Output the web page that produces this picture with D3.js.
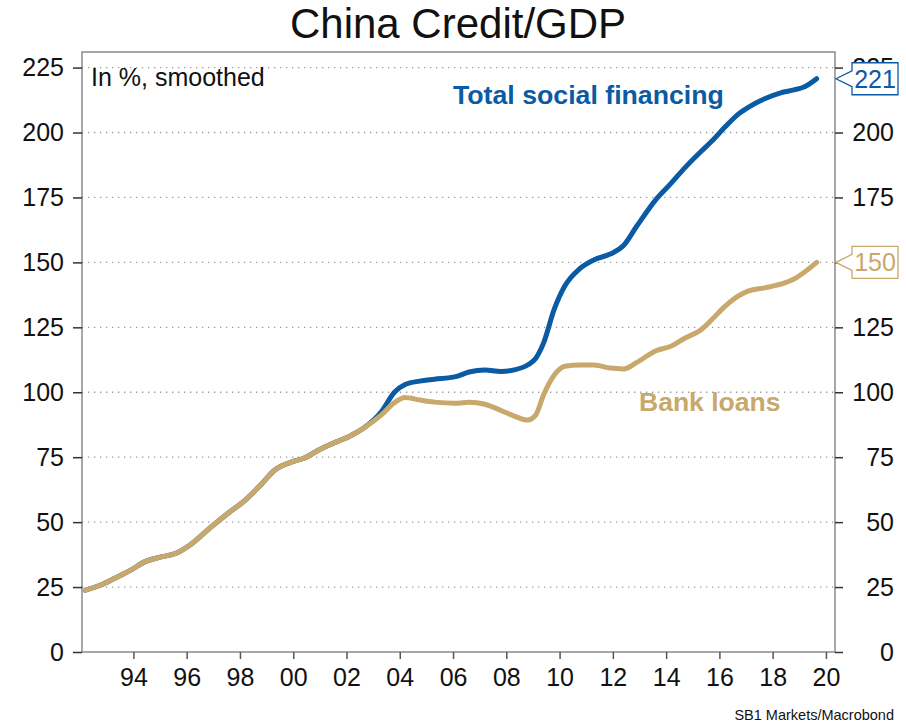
<!DOCTYPE html>
<html>
<head>
<meta charset="utf-8">
<script src="https://cdn.jsdelivr.net/npm/d3@7"></script>
<style>
  html, body { margin: 0; padding: 0; background: #fff; }
  svg { display: block; font-family: "Liberation Sans", Arial, sans-serif; }
</style>
</head>
<body>
<svg id="chart" width="906" height="722"></svg>
<script>
// Credit-to-GDP ratios (in %, smoothed), sampled at decimal years
const years = [1992.2, 1992.75, 1993.3, 1993.9, 1994.4, 1995.0, 1995.6, 1996.1, 1996.9, 1997.6,
  1998.2, 1998.75, 1999.3, 1999.9, 2000.4, 2001.0, 2001.6, 2002.1, 2002.7, 2003.3,
  2003.8, 2004.2, 2004.75, 2005.3, 2006.1, 2006.6, 2007.2, 2007.8, 2008.3, 2008.8,
  2009.1, 2009.4, 2009.8, 2010.2, 2010.75, 2011.3, 2011.9, 2012.4, 2012.9, 2013.6,
  2014.2, 2014.7, 2015.3, 2015.7, 2016.2, 2016.7, 2017.1, 2017.7, 2018.3, 2018.8,
  2019.2, 2019.65];

const totalSocialFinancing = [23.8, 25.7, 28.4, 31.5, 34.6, 36.5, 38.0, 41.0, 48.0, 53.8,
  58.5, 64.0, 70.0, 73.0, 74.6, 78.0, 80.8, 83.0, 86.6, 92.4,
  100.0, 103.0, 104.3, 105.0, 106.0, 107.8, 108.6, 108.0, 108.6, 110.5,
  113.0, 119.0, 132.0, 141.0, 147.5, 151.0, 153.2, 156.5, 164.0, 174.0,
  180.6, 186.4, 192.6, 196.5, 202.0, 207.0, 209.8, 213.0, 215.3, 216.4,
  217.6, 220.7];

const bankLoans = [23.8, 25.7, 28.4, 31.5, 34.6, 36.5, 38.0, 41.0, 48.0, 53.8,
  58.5, 64.0, 70.0, 73.0, 74.6, 78.0, 80.8, 83.0, 86.6, 91.2,
  96.0, 98.0, 97.0, 96.2, 95.8, 96.2, 95.4, 93.0, 90.8, 89.3,
  91.2, 99.0, 106.6, 110.0, 110.5, 110.5, 109.3, 109.0, 111.5, 115.9,
  117.8, 120.8, 124.0, 127.8, 133.0, 137.0, 139.0, 140.2, 141.6, 143.6,
  146.3, 150.0];

const yTicks = [0, 25, 50, 75, 100, 125, 150, 175, 200, 225];
const xTicks = [1994, 1996, 1998, 2000, 2002, 2004, 2006, 2008, 2010, 2012, 2014, 2016, 2018, 2020];
const xTickLabels = ["94", "96", "98", "00", "02", "04", "06", "08", "10", "12", "14", "16", "18", "20"];

const BLUE = "#0a5aa4";
const TAN = "#c8a86b";
const GRID = "#9a9a9a";
const FRAME = "#8a8a8a";

const svg = d3.select("#chart");
const plotLeft = 82, plotRight = 835, plotTop = 52, plotBottom = 652;

const x = d3.scaleLinear().domain([1992.07, 2020.34]).range([plotLeft, plotRight]);
const y = d3.scaleLinear().domain([0, 231]).range([plotBottom, plotTop]);

// Title
svg.append("text")
  .attr("x", 458).attr("y", 38)
  .attr("text-anchor", "middle")
  .attr("font-size", 42)
  .attr("fill", "#111")
  .text("China Credit/GDP");

// Horizontal dotted grid
svg.append("g").selectAll("line")
  .data(yTicks)
  .join("line")
  .attr("x1", plotLeft).attr("x2", plotRight)
  .attr("y1", d => y(d)).attr("y2", d => y(d))
  .attr("stroke", d => d === 0 ? FRAME : GRID)
  .attr("stroke-width", d => d === 0 ? 1.5 : 1.3)
  .attr("stroke-dasharray", d => d === 0 ? null : "1.3,4.7");

// Plot frame: left, top and right edges
svg.append("path")
  .attr("d", `M${plotLeft},${plotBottom} V${plotTop} H${plotRight} V${plotBottom}`)
  .attr("fill", "none")
  .attr("stroke", FRAME)
  .attr("stroke-width", 1.5);

// Left axis
const yAxisL = d3.axisLeft(y).tickValues(yTicks).tickSize(9).tickPadding(9);
const gL = svg.append("g").attr("transform", `translate(${plotLeft},0)`).call(yAxisL);
gL.select(".domain").remove();
gL.selectAll(".tick line").attr("stroke", "#333").attr("stroke-width", 1.5);
gL.selectAll(".tick text").attr("font-size", 25).attr("fill", "#111")
  .attr("font-family", "Liberation Sans, Arial, sans-serif");

// Right axis (labels right-aligned)
const yAxisR = d3.axisRight(y).tickValues(yTicks).tickSize(8).tickPadding(0);
const gR = svg.append("g").attr("transform", `translate(${plotRight},0)`).call(yAxisR);
gR.select(".domain").remove();
gR.selectAll(".tick line").attr("stroke", "#333").attr("stroke-width", 1.5);
gR.selectAll(".tick text").attr("font-size", 25).attr("fill", "#111")
  .attr("text-anchor", "end").attr("x", 59)
  .attr("font-family", "Liberation Sans, Arial, sans-serif");

// Bottom axis
const xAxis = d3.axisBottom(x).tickValues(xTicks).tickSize(7).tickPadding(9)
  .tickFormat((d, i) => xTickLabels[i]);
const gB = svg.append("g").attr("transform", `translate(0,${plotBottom})`).call(xAxis);
gB.select(".domain").remove();
gB.selectAll(".tick line").attr("stroke", "#555").attr("stroke-width", 1.5);
gB.selectAll(".tick text").attr("font-size", 25).attr("fill", "#111")
  .attr("font-family", "Liberation Sans, Arial, sans-serif");

// Series lines
const lineGen = vals => d3.line()
  .x((d, i) => x(years[i]))
  .y(d => y(d))
  .curve(d3.curveMonotoneX)(vals);

svg.append("path")
  .attr("d", lineGen(totalSocialFinancing))
  .attr("fill", "none").attr("stroke", BLUE)
  .attr("stroke-width", 5).attr("stroke-linejoin", "round").attr("stroke-linecap", "round");

svg.append("path")
  .attr("d", lineGen(bankLoans))
  .attr("fill", "none").attr("stroke", TAN)
  .attr("stroke-width", 5).attr("stroke-linejoin", "round").attr("stroke-linecap", "round");

// Annotations
svg.append("text")
  .attr("x", 91).attr("y", 86)
  .attr("font-size", 25).attr("fill", "#111")
  .text("In %, smoothed");

svg.append("text")
  .attr("x", 453).attr("y", 104)
  .attr("font-size", 26.7).attr("font-weight", "bold").attr("fill", BLUE)
  .text("Total social financing");

svg.append("text")
  .attr("x", 639).attr("y", 411)
  .attr("font-size", 26.5).attr("font-weight", "bold").attr("fill", TAN)
  .text("Bank loans");

// Last-value callouts on the right axis
function callout(value, color) {
  const vy = y(value);
  const bx = 852, bw = 46, bh = 32;
  const g = svg.append("g");
  g.append("path")
    .attr("d", `M${plotRight + 1},${vy} L${bx},${vy - 8} V${vy - bh / 2} H${bx + bw} V${vy + bh / 2} H${bx} V${vy + 8} Z`)
    .attr("fill", "#fff").attr("stroke", color).attr("stroke-width", 1.3);
  g.append("text")
    .attr("x", bx + bw / 2).attr("y", vy + 9)
    .attr("text-anchor", "middle")
    .attr("font-size", 25).attr("fill", color)
    .text(Math.round(value));
}
callout(totalSocialFinancing[totalSocialFinancing.length - 1], BLUE);
callout(bankLoans[bankLoans.length - 1], TAN);

// Source
svg.append("text")
  .attr("x", 894).attr("y", 720)
  .attr("text-anchor", "end")
  .attr("font-size", 14.5).attr("fill", "#111")
  .text("SB1 Markets/Macrobond");
</script>
</body>
</html>
